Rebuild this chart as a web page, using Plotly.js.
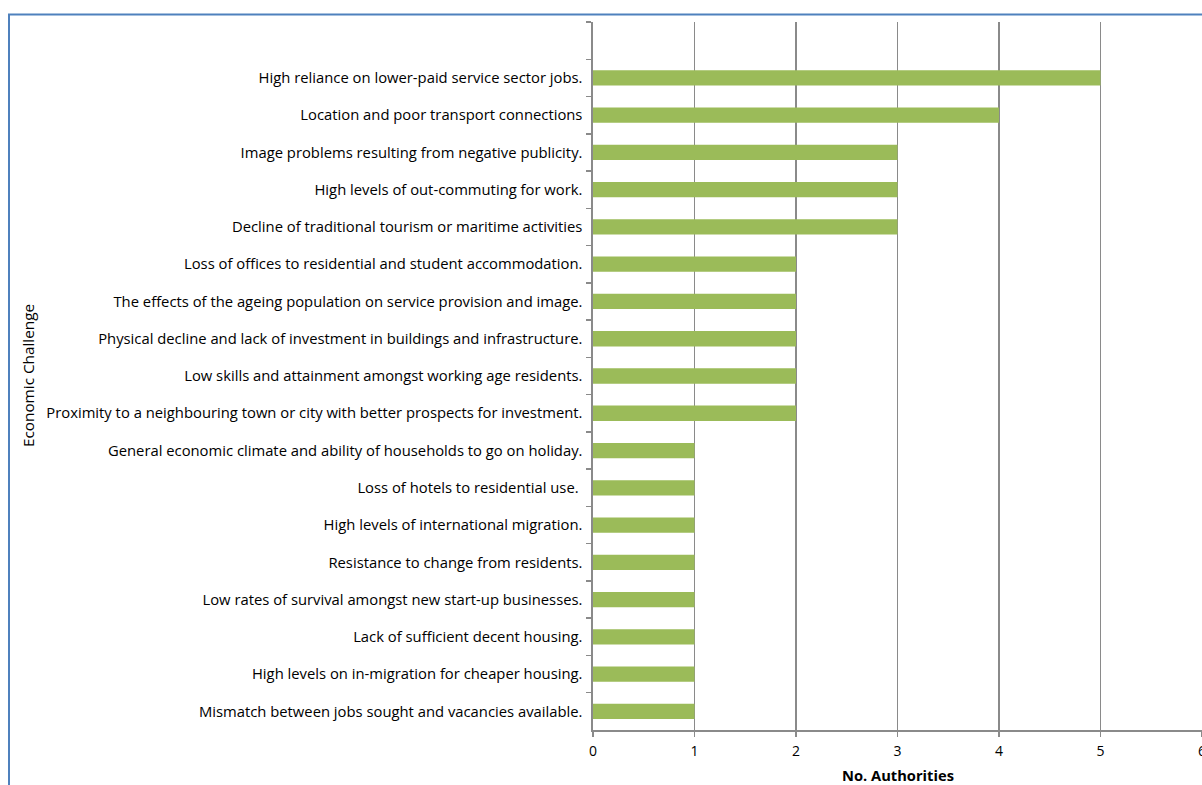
<!DOCTYPE html>
<html>
<head>
<meta charset="utf-8">
<script src="https://cdn.plot.ly/plotly-3.0.1.min.js"></script>
<style>
html,body{margin:0;padding:0;background:#fff;}
#chart{width:1202px;height:785px;}
</style>
</head>
<body>
<div id="chart"></div>
<script>
// Categories listed top to bottom
const challenges = [
  "High reliance on lower-paid service sector jobs.",
  "Location and poor transport connections",
  "Image problems resulting from negative publicity.",
  "High levels of out-commuting for work.",
  "Decline of traditional tourism or maritime activities",
  "Loss of offices to residential and student accommodation.",
  "The effects of the ageing population on service provision and image.",
  "Physical decline and lack of investment in buildings and infrastructure.",
  "Low skills and attainment amongst working age residents.",
  "Proximity to a neighbouring town or city with better prospects for investment.",
  "General economic climate and ability of households to go on holiday.",
  "Loss of hotels to residential use. ",
  "High levels of international migration.",
  "Resistance to change from residents.",
  "Low rates of survival amongst new start-up businesses.",
  "Lack of sufficient decent housing.",
  "High levels on in-migration for cheaper housing.",
  "Mismatch between jobs sought and vacancies available."
];
const authorities = [5, 4, 3, 3, 3, 2, 2, 2, 2, 2, 1, 1, 1, 1, 1, 1, 1, 1];
const xTicks = [0, 1, 2, 3, 4, 5, 6];
const xTitle = "No. Authorities";
const yTitle = "Economic Challenge";

const FONT = "'Open Sans', Lato, sans-serif";
const FS = 14.8;
const W = 1202, H = 785;
const L = 593, T = 22, B = 55, R = 0;
const pw = W - L - R, ph = H - T - B;
const px2x = p => (p - L) / pw;
const py2y = p => (H - B - p) / ph;

const cats = [" "].concat(challenges);

const trace = {
  type: "bar",
  orientation: "h",
  x: authorities,
  y: challenges,
  width: 0.41,
  marker: {color: "#9BBB59", line: {width: 0}},
  hoverinfo: "x+y"
};

const layout = {
  width: W, height: H,
  margin: {l: L, r: R, t: T, b: B},
  paper_bgcolor: "#fff",
  plot_bgcolor: "#fff",
  showlegend: false,
  font: {family: FONT, size: FS, color: "#000"},
  xaxis: {
    range: [0, 6],
    tickvals: xTicks,
    ticktext: xTicks.map(String),
    showgrid: true,
    gridcolor: "#8a8a8a",
    gridwidth: 1.6,
    zeroline: false,
    showline: true,
    linecolor: "#8a8a8a",
    linewidth: 1.6,
    ticks: "outside",
    ticklen: 5,
    tickcolor: "#8a8a8a",
    tickwidth: 1.5,
    tickfont: {family: FONT, size: 14, color: "#000"},
    ticklabelstandoff: 3,
    ticklabeloverflow: "allow",
    fixedrange: true
  },
  yaxis: {
    type: "category",
    categoryorder: "array",
    categoryarray: cats,
    range: [18.5, -0.5],
    autorange: false,
    tickson: "boundaries",
    ticks: "outside",
    ticklen: 5,
    tickcolor: "#8a8a8a",
    tickwidth: 1.5,
    showgrid: false,
    zeroline: false,
    showline: true,
    linecolor: "#8a8a8a",
    linewidth: 1.6,
    tickfont: {family: FONT, size: FS, color: "#000"},
    ticklabelstandoff: 6,
    fixedrange: true
  },
  annotations: [
    {
      text: yTitle, xref: "paper", yref: "paper",
      x: px2x(28), y: py2y(376), xanchor: "center", yanchor: "middle",
      textangle: -90, showarrow: false,
      font: {family: FONT, size: 15.3, color: "#000"}
    },
    {
      text: "<b>" + xTitle + "</b>", xref: "paper", yref: "paper",
      x: px2x(898), y: py2y(775), xanchor: "center", yanchor: "middle",
      showarrow: false,
      font: {family: FONT, size: 14.7, color: "#000"}
    }
  ],
  shapes: [
    {
      type: "rect", xref: "paper", yref: "paper",
      x0: px2x(9), x1: px2x(1250), y0: py2y(820), y1: py2y(14.5),
      line: {color: "#4F81BD", width: 2}, fillcolor: "rgba(0,0,0,0)",
      layer: "above"
    }
  ]
};

Plotly.newPlot("chart", [trace], layout, {displayModeBar: false, staticPlot: true});
</script>
</body>
</html>
